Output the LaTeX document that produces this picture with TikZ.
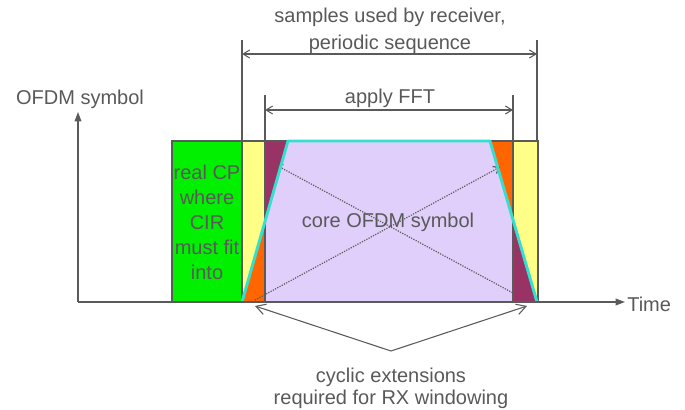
\documentclass[tikz,border=0pt]{standalone}
\usepackage{fontspec}
\setmainfont{Liberation Sans}
\usetikzlibrary{arrows.meta, positioning, calc}

\definecolor{txtgray}{HTML}{595959}
\definecolor{linegray}{HTML}{5A5A5A}
\definecolor{cpgreen}{HTML}{00F000}
\definecolor{extyellow}{HTML}{FFFF88}
\definecolor{winmaroon}{HTML}{993366}
\definecolor{winorange}{HTML}{FF6600}
\definecolor{corelilac}{HTML}{E0CFFA}
\definecolor{rampcyan}{HTML}{33E0D0}

\tikzset{
    label/.style={text=txtgray, inner sep=0pt, align=center},
    block/.style={draw=linegray, line width=0.8pt},
    axis/.style={draw=linegray, line width=0.9pt, -{Triangle[length=7pt, width=5pt]}},
    dimline/.style={draw=linegray, line width=0.8pt, {Straight Barb[length=5pt, width=6pt]}-{Straight Barb[length=5pt, width=6pt]}},
    pointer/.style={draw=linegray, line width=0.8pt, -{Straight Barb[length=7pt, width=8pt]}},
    ramp/.style={draw=rampcyan, line width=2.2pt, line join=round}
}

\begin{document}
\begin{tikzpicture}[x=0.75pt, y=-0.75pt, font=\fontsize{15}{18}\selectfont]
    \useasboundingbox (0,0) rectangle (685,410);

    % blocks of the received symbol
    \fill[corelilac] (265,141) rectangle (513,302);
    \fill[cpgreen] (172,141) rectangle (242,302);
    \fill[extyellow] (242,141) rectangle (265,302);
    \fill[extyellow] (513,141) rectangle (538,302);

    % window ramps
    \fill[winmaroon] (265,141) -- (288,141) -- (265,221) -- cycle;
    \fill[winorange] (490,141) -- (513,141) -- (513,220) -- cycle;
    \fill[winorange] (242,302) -- (265,302) -- (265,221) -- cycle;
    \fill[winmaroon] (513,220) -- (513,302) -- (537,302) -- cycle;

    \draw[block] (172,141) rectangle (242,302);
    \draw[block] (242,141) rectangle (265,302);
    \draw[block] (265,141) rectangle (513,302);
    \draw[block] (513,141) rectangle (538,302);

    % cyclic copies
    \draw[linegray, densely dotted, line width=0.9pt, -{Straight Barb[length=4pt, width=6pt]}] (255,300) -- (500,167);
    \draw[linegray, densely dotted, line width=0.9pt, {Straight Barb[length=4pt, width=6pt]}-] (276,165) -- (513,293);

    \draw[ramp] (242,302) -- (288,141) -- (490,141) -- (537,302);

    % axes
    \coordinate (origin) at (78,302);
    \coordinate (tend) at (625,302);
    \coordinate (yend) at (78,112);
    \draw[axis] (origin) -- (tend);
    \draw[axis] (origin) -- (yend);
    \node[label, anchor=west] (time) at (627,304) {Time};
    \node[label] (ylab) at (80,99) {OFDM symbol};

    % dimension lines
    \coordinate (rxl) at (242,54);
    \coordinate (rxr) at (537,54);
    \coordinate (fftl) at (265,110);
    \coordinate (fftr) at (513,110);
    \draw[linegray, line width=0.8pt] (242,40) -- (242,141);
    \draw[linegray, line width=0.8pt] (537,40) -- (537,141);
    \draw[linegray, line width=0.8pt] (265,95) -- (265,141);
    \draw[linegray, line width=0.8pt] (513,95) -- (513,141);
    \draw[dimline] (rxl) -- (rxr);
    \draw[dimline] (fftl) -- (fftr);
    \node[label, font=\fontsize{15}{20}\selectfont] (rxtext) at (390,31) {samples used by receiver,\\periodic sequence};
    \node[label] (ffttext) at (390,98) {apply FFT};

    % block texts
    \node[label, font=\fontsize{15}{18.75}\selectfont] (cptext) at (207,222) {real CP\\where\\CIR\\must fit\\into};
    \node[label] (coretext) at (388,222) {core OFDM symbol};

    % cyclic extension pointers
    \node[label, font=\fontsize{15}{16.5}\selectfont] (cyctext) at (391,388) {cyclic extensions\\required for RX windowing};
    \coordinate (apex) at (391,351);
    \coordinate (extl) at (255,306);
    \coordinate (extr) at (527,306);
    \draw[pointer] (apex) -- (extl);
    \draw[pointer] (apex) -- (extr);
\end{tikzpicture}
\end{document}
